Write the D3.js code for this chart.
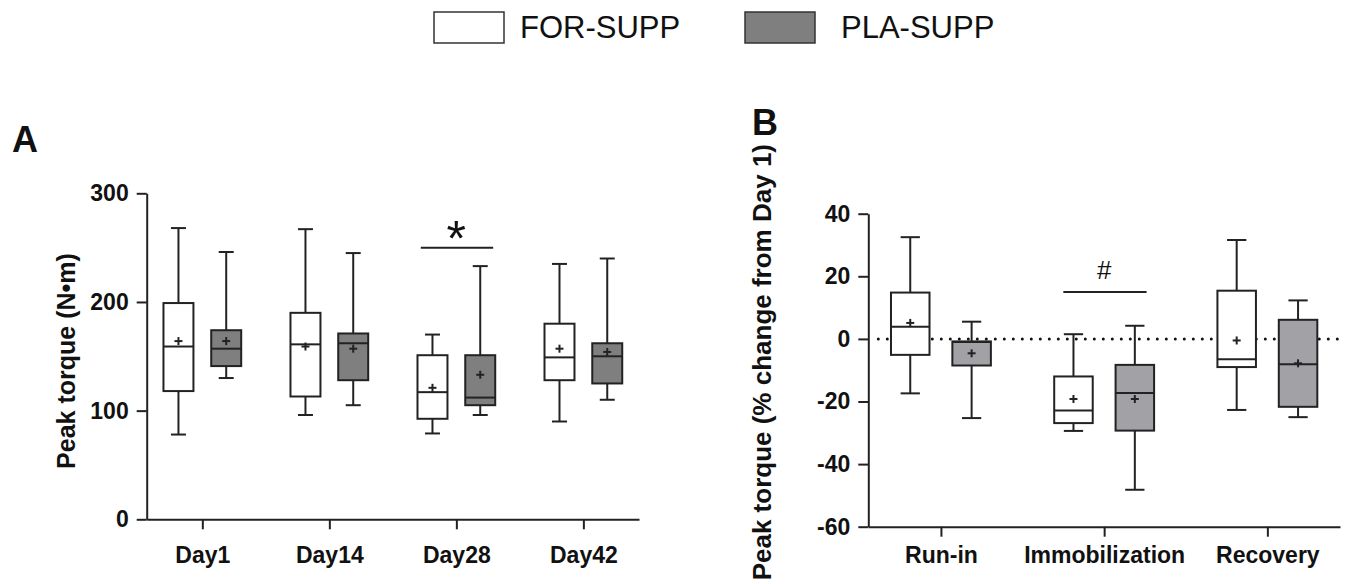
<!DOCTYPE html>
<html>
<head>
<meta charset="utf-8">
<script src="https://cdn.jsdelivr.net/npm/d3@7"></script>
<style>
  body { margin: 0; background: #fff; }
  svg { display: block; }
  text { font-family: "Liberation Sans", Arial, sans-serif; fill: #111; }
</style>
</head>
<body>
<div id="container"></div>
<script>
// each row: [min, q1, median, q3, max, mean]
const days = ["Day1", "Day14", "Day28", "Day42"];
const phases = ["Run-in", "Immobilization", "Recovery"];
const groups = ["FOR-SUPP", "PLA-SUPP"];

const forTorque = [
  [78, 118, 159, 199, 268, 164],
  [96, 113, 161, 190, 267, 159],
  [79, 92.5, 117, 151, 170, 121],
  [90, 128, 149, 180, 235, 157]
];
const plaTorque = [
  [130, 141, 157, 174, 246, 164],
  [105, 128, 162, 171, 245, 157],
  [96, 105, 112, 151, 233, 133],
  [110, 125, 150, 162, 240, 154]
];
const forChange = [
  [-17.4, -5.1, 3.9, 14.8, 32.5, 5.1],
  [-29.4, -26.9, -22.9, -12.0, 1.5, -19.2],
  [-22.7, -9.0, -6.5, 15.4, 31.6, -0.5]
];
const plaChange = [
  [-25.3, -8.5, -1.0, -0.8, 5.5, -4.6],
  [-48.2, -29.3, -17.3, -8.3, 4.2, -19.2],
  [-25.0, -21.7, -8.1, 6.1, 12.3, -7.8]
];

const torqueTicks = [0, 100, 200, 300];
const changeTicks = [-60, -40, -20, 0, 20, 40];

const sigA = { at: "Day28", value: 250, mark: "*" };
const sigB = { at: "Immobilization", value: 15, mark: "#" };

const width = 1345, height = 584;
const ink = "#222";

const svg = d3.select("#container").append("svg")
  .attr("width", width).attr("height", height);

function panel(opt) {
  const g = svg.append("g");
  const x = d3.scalePoint().domain(opt.cats).range(opt.xRange).padding(opt.pad);
  const y = d3.scaleLinear().domain(opt.yDomain).range(opt.yRange);
  const step = x.step();
  const boxW = step * 0.236;
  const off = step * 0.188;

  // y axis (plain hyphen for negatives, like the original)
  const ya = g.append("g")
    .attr("transform", `translate(${opt.xRange[0]},0)`)
    .call(d3.axisLeft(y).tickValues(opt.ticks).tickFormat(d => String(d))
      .tickSize(10).tickSizeOuter(0).tickPadding(8));
  // x axis
  const xa = g.append("g")
    .attr("transform", `translate(0,${opt.yRange[0]})`)
    .call(d3.axisBottom(x).tickSize(10).tickSizeOuter(0).tickPadding(opt.xPad));
  [ya, xa].forEach(a => {
    a.select(".domain").attr("stroke", ink).attr("stroke-width", 2);
    a.selectAll(".tick line").attr("stroke", ink).attr("stroke-width", 2);
    a.selectAll(".tick text")
      .attr("font-size", 23).attr("font-weight", "bold")
      .attr("font-family", "Liberation Sans, Arial, sans-serif").attr("fill", "#111");
  });

  if (opt.zeroLine) {
    g.append("line")
      .attr("x1", opt.xRange[0] + 10).attr("x2", opt.xRange[1])
      .attr("y1", y(0)).attr("y2", y(0))
      .attr("stroke", "#111").attr("stroke-width", 3)
      .attr("stroke-linecap", "round").attr("stroke-dasharray", "0,9");
  }

  opt.series.forEach((rows, si) => {
    const side = si === 0 ? -1 : 1;
    const bg = g.append("g");
    rows.forEach((r, j) => {
      const [mn, q1, md, q3, mx, mean] = r;
      const cx = x(opt.cats[j]) + side * off;
      const cap = boxW * 0.5;
      const b = bg.append("g").attr("stroke", ink).attr("stroke-width", 2);
      b.append("line").attr("x1", cx).attr("x2", cx).attr("y1", y(mx)).attr("y2", y(mn));
      b.append("line").attr("x1", cx - cap / 2).attr("x2", cx + cap / 2).attr("y1", y(mx)).attr("y2", y(mx));
      b.append("line").attr("x1", cx - cap / 2).attr("x2", cx + cap / 2).attr("y1", y(mn)).attr("y2", y(mn));
      b.append("rect")
        .attr("x", cx - boxW / 2).attr("width", boxW)
        .attr("y", y(q3)).attr("height", y(q1) - y(q3))
        .attr("fill", opt.fills[si]);
      b.append("line").attr("x1", cx - boxW / 2).attr("x2", cx + boxW / 2).attr("y1", y(md)).attr("y2", y(md));
      const p = 4;
      b.append("line").attr("x1", cx - p).attr("x2", cx + p).attr("y1", y(mean)).attr("y2", y(mean));
      b.append("line").attr("x1", cx).attr("x2", cx).attr("y1", y(mean) - p).attr("y2", y(mean) + p);
    });
  });

  // significance bar
  const s = opt.sig;
  const sx = x(s.at);
  g.append("line")
    .attr("x1", sx - step * opt.sigHalf[0]).attr("x2", sx + step * opt.sigHalf[1])
    .attr("y1", y(s.value)).attr("y2", y(s.value))
    .attr("stroke", ink).attr("stroke-width", 2);
  g.append("text")
    .attr("x", sx).attr("y", y(s.value) + opt.sigDy)
    .attr("text-anchor", "middle")
    .attr("font-size", opt.sigSize)
    .text(s.mark);

  // y title
  g.append("text")
    .attr("transform", `translate(${opt.titleX},${opt.titleY}) rotate(-90)`)
    .attr("text-anchor", opt.titleAnchor)
    .attr("font-size", opt.titleSize).attr("font-weight", "bold")
    .text(opt.title);

  // panel letter
  g.append("text")
    .attr("x", opt.letter[1]).attr("y", opt.letter[2])
    .attr("font-size", 36).attr("font-weight", "bold")
    .text(opt.letter[0]);
}

panel({
  cats: days, xRange: [146.7, 639], pad: 0.438,
  yDomain: [0, 300], yRange: [519.3, 193.3], ticks: torqueTicks, xPad: 17,
  series: [forTorque, plaTorque], fills: ["#fff", "#7f7f7f"],
  sig: sigA, sigHalf: [0.28, 0.29], sigDy: 8, sigSize: 50,
  title: "Peak torque (N\u2022m)", titleX: 75, titleY: 361, titleAnchor: "middle", titleSize: 25,
  letter: ["A", 12, 152]
});

panel({
  cats: phases, xRange: [868.3, 1340], pad: 0.445,
  yDomain: [-60, 40], yRange: [526.7, 213.7], ticks: changeTicks, xPad: 10,
  series: [forChange, plaChange], fills: ["#fff", "#a2a2a6"], zeroLine: true,
  sig: sigB, sigHalf: [0.25, 0.26], sigDy: -13, sigSize: 26,
  title: "Peak torque (% change from Day 1)", titleX: 771, titleY: 144, titleAnchor: "end", titleSize: 26,
  letter: ["B", 752, 135]
});

// legend
const lg = svg.append("g");
const legendX = [434, 745];
groups.forEach((name, i) => {
  lg.append("rect")
    .attr("x", legendX[i]).attr("y", 12).attr("width", 70).attr("height", 31)
    .attr("fill", i === 0 ? "#fff" : "#7f7f7f")
    .attr("stroke", "#333").attr("stroke-width", 1.5);
  lg.append("text")
    .attr("x", legendX[i] + 86 + i * 10).attr("y", 38)
    .attr("font-size", 31)
    .text(name);
});
</script>
</body>
</html>
